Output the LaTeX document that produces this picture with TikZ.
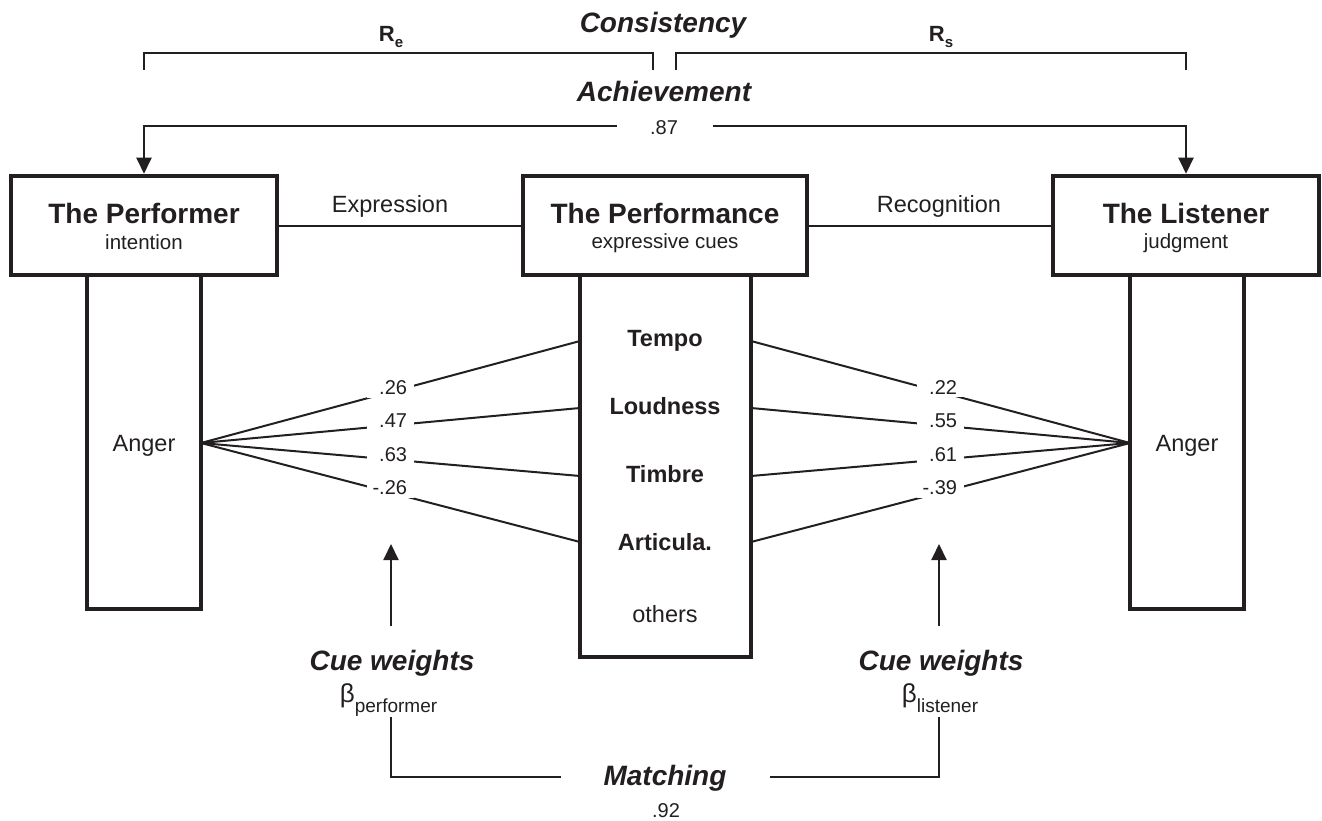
\documentclass[tikz,border=0pt]{standalone}
\usepackage{fontspec}
\setmainfont{Liberation Sans}
\usetikzlibrary{arrows.meta}
\definecolor{ink}{RGB}{35,31,32}
\newcommand\fTitle{\fontsize{28}{32}\selectfont\bfseries}
\newcommand\fTitleIt{\fontsize{28}{32}\selectfont\bfseries\itshape}
\newcommand\fSub{\fontsize{20.5}{24}\selectfont}
\newcommand\fMid{\fontsize{23.5}{28}\selectfont}
\newcommand\fCue{\fontsize{23.5}{28}\selectfont\bfseries}
\newcommand\fNum{\fontsize{20}{24}\selectfont}
\newcommand\rbox[1]{\makebox[33pt][r]{#1}}
\begin{document}
\begin{tikzpicture}[x=1pt,y=-1pt,
  box/.style={draw=ink, line width=4.5pt, fill=white, inner sep=0pt},
  colbox/.style={draw=ink, line width=4.5pt, fill=white, inner sep=0pt},
  thin/.style={draw=ink, line width=2pt},
  arr/.style={draw=ink, line width=2pt, -{Triangle[width=15pt,length=16pt]}},
  lbl/.style={text=ink, inner sep=0pt, anchor=base},
  wlab/.style={fill=white, text=ink, font=\fNum,
    inner xsep=7pt, inner ysep=3pt, yshift=4.5pt}]
\useasboundingbox (0,0) rectangle (1322,821);

% columns
\node[colbox, minimum width=114pt, minimum height=334pt] (pcol) at (144,442) {};
\node[colbox, minimum width=171pt, minimum height=382pt] (mcol) at (665.5,466) {};
\node[colbox, minimum width=114pt, minimum height=334pt] (lcol) at (1187,442) {};

% boxes
\node[box, minimum width=266pt, minimum height=99pt] (perf) at (144,225.5) {};
\node[box, minimum width=284pt, minimum height=99pt] (perfm) at (665,225.5) {};
\node[box, minimum width=266pt, minimum height=99pt] (list) at (1186,225.5) {};

% box texts
\node[lbl] (perfT) at (144,223) {\fTitle The Performer};
\node[lbl] (perfS) at (144,249) {\fSub intention};
\node[lbl] (perfmT) at (665,223) {\fTitle The Performance};
\node[lbl] (perfmS) at (665,248) {\fSub expressive cues};
\node[lbl] (listT) at (1186,223) {\fTitle The Listener};
\node[lbl] (listS) at (1186,248) {\fSub judgment};

% expression / recognition
\draw[thin] (perf.east) -- (perfm.west);
\draw[thin] (perfm.east) -- (list.west);
\node[lbl] (expr) at (390,212) {\fMid Expression};
\node[lbl] (recog) at (939,212) {\fMid Recognition};

% top: consistency and achievement
\node[lbl] (cons) at (663,33) {\fTitleIt Consistency};
\node[lbl] (Re) at (391,42) {\fontsize{22}{26}\selectfont\bfseries R\raisebox{-6pt}{\fontsize{15}{18}\selectfont e}};
\node[lbl] (Rs) at (941,42) {\fontsize{22}{26}\selectfont\bfseries R\raisebox{-6pt}{\fontsize{15}{18}\selectfont s}};
\draw[thin] (144,70) -- (144,53) -- (653,53) -- (653,70);
\draw[thin] (676,70) -- (676,53) -- (1186,53) -- (1186,70);
\node[lbl] (ach) at (664,102) {\fTitleIt Achievement};
\node[lbl] (ach87) at (664,135) {\fNum .87};
\coordinate (achL) at (617,126);
\coordinate (achR) at (713,126);
\draw[arr] (achL) -| (perf.north);
\draw[arr] (achR) -| (list.north);

% Anger
\node[lbl] (angL) at (144,451) {\fMid Anger};
\node[lbl] (angR) at (1187,451) {\fMid Anger};

% cues
\node[lbl] (cT) at (665,346) {\fCue Tempo};
\node[lbl] (cL) at (665,414) {\fCue Loudness};
\node[lbl] (cTi) at (665,482) {\fCue Timbre};
\node[lbl] (cA) at (665,550) {\fCue Articula.};
\node[lbl] (cO) at (665,622) {\fMid others};

% fan coordinates
\coordinate (fanL) at (201,443);
\coordinate (fanR) at (1130,443);
\coordinate (eL1) at (580,341);
\coordinate (eL2) at (580,408);
\coordinate (eL3) at (580,476);
\coordinate (eL4) at (580,542);
\coordinate (eR1) at (751,341);
\coordinate (eR2) at (751,408);
\coordinate (eR3) at (751,476);
\coordinate (eR4) at (751,542);

\draw[thin] (fanL) -- node[wlab] (wl1) {\rbox{.26}} (eL1);
\draw[thin] (fanL) -- node[wlab] (wl2) {\rbox{.47}} (eL2);
\draw[thin] (fanL) -- node[wlab] (wl3) {\rbox{.63}} (eL3);
\draw[thin] (fanL) -- node[wlab] (wl4) {\rbox{-.26}} (eL4);
\draw[thin] (eR1) -- node[wlab] (wr1) {\rbox{.22}} (fanR);
\draw[thin] (eR2) -- node[wlab] (wr2) {\rbox{.55}} (fanR);
\draw[thin] (eR3) -- node[wlab] (wr3) {\rbox{.61}} (fanR);
\draw[thin] (eR4) -- node[wlab] (wr4) {\rbox{-.39}} (fanR);

% cue weights
\coordinate (cwLb) at (391,626);
\coordinate (cwLt) at (391,544);
\coordinate (cwRb) at (939,626);
\coordinate (cwRt) at (939,544);
\draw[arr] (cwLb) -- (cwLt);
\draw[arr] (cwRb) -- (cwRt);
\node[lbl] (cwL) at (392,670) {\fTitleIt Cue weights};
\node[lbl] (cwR) at (941,670) {\fTitleIt Cue weights};
\node[lbl] (betaL) at (388.5,702) {\fontsize{26}{30}\selectfont β\raisebox{-10pt}{\fontsize{19}{22}\selectfont performer}};
\node[lbl] (betaR) at (940,702) {\fontsize{26}{30}\selectfont β\raisebox{-10pt}{\fontsize{19}{22}\selectfont listener}};

% matching
\node[lbl] (match) at (665,785) {\fTitleIt Matching};
\node[lbl] (m92) at (666,817) {\fNum .92};
\coordinate (mL1) at (391,717);
\coordinate (mL2) at (561,777);
\coordinate (mR1) at (770,777);
\coordinate (mR2) at (939,717);
\draw[thin] (mL1) |- (mL2);
\draw[thin] (mR1) -| (mR2);
\end{tikzpicture}
\end{document}
